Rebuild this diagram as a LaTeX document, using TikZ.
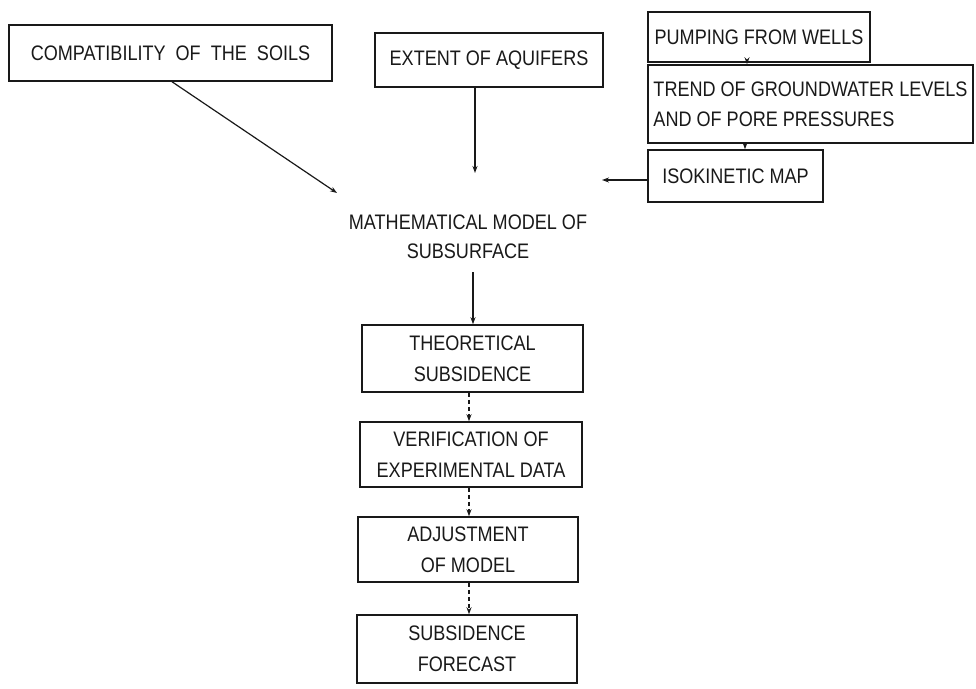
\documentclass[tikz,border=0pt]{standalone}
\usepackage{fontspec}
\setmainfont{Liberation Sans}[FakeStretch=0.86]
\usetikzlibrary{arrows.meta}
\begin{document}
\begin{tikzpicture}[x=1pt,y=-1pt,
  box/.style={draw=black!90, line width=1.5pt, inner sep=0pt, align=center,
    font=\fontsize{21}{31}\selectfont, text=black!90},
  plain/.style={inner sep=0pt, align=center, font=\fontsize{21}{29}\selectfont, text=black!90},
  arr/.style={draw=black!90, line width=1.2pt, -{Stealth[length=7pt,width=5pt]}},
  darr/.style={arr, dash pattern=on 4pt off 3pt}]
\useasboundingbox (0,0) rectangle (976,688);
\fill[white] (0,0) rectangle (976,688);
% top row
\node[box, minimum width=323pt, minimum height=56pt] (soils) at (170.5,53) {COMPATIBILITY \ OF \ THE \ SOILS};
\node[box, minimum width=228pt, minimum height=54pt] (aquif) at (489,60) {EXTENT OF AQUIFERS};
\node[box, minimum width=222pt, minimum height=50pt] (pump) at (759,37) {PUMPING FROM WELLS};
\node[box, minimum width=325pt, minimum height=78pt, align=left, font=\fontsize{21}{30}\selectfont] (trend) at (810.5,104) {TREND OF GROUNDWATER LEVELS\\AND OF PORE PRESSURES};
\node[box, minimum width=175pt, minimum height=52pt] (iso) at (735.5,176) {ISOKINETIC MAP};
% model
\node[plain] (model) at (468,237) {MATHEMATICAL MODEL OF\\SUBSURFACE};
% lower chain
\node[box, minimum width=221pt, minimum height=67pt] (theo) at (472.5,358.5) {THEORETICAL\\SUBSIDENCE};
\node[box, minimum width=222pt, minimum height=65pt] (verif) at (471,454.5) {VERIFICATION OF\\EXPERIMENTAL DATA};
\node[box, minimum width=220pt, minimum height=65pt] (adj) at (468,549.5) {ADJUSTMENT\\OF MODEL};
\node[box, minimum width=220pt, minimum height=68pt] (fore) at (467,649) {SUBSIDENCE\\FORECAST};
% connector ends
\coordinate (m1) at (337,193);
\coordinate (m2) at (475,173);
\coordinate (m3) at (602,180);
\coordinate (m4) at (473,272);
\coordinate (c34) at (747,0);
\coordinate (c45) at (745,0);
\coordinate (cd) at (469,0);
% connectors
\draw[arr] (soils.south) ++(1.5,0) -- (m1);
\draw[arr] (aquif.south -| m2) -- (m2);
\draw[arr] (m3 -| iso.west) -- (m3);
\draw[arr] (pump.south -| c34) -- (trend.north -| c34);
\draw[arr] (trend.south -| c45) -- (iso.north -| c45);
\draw[arr] (m4) -- (theo.north -| m4);
\draw[darr] (theo.south -| cd) -- (verif.north -| cd);
\draw[darr] (verif.south -| cd) -- (adj.north -| cd);
\draw[darr] (adj.south -| cd) -- (fore.north -| cd);
\end{tikzpicture}
\end{document}
